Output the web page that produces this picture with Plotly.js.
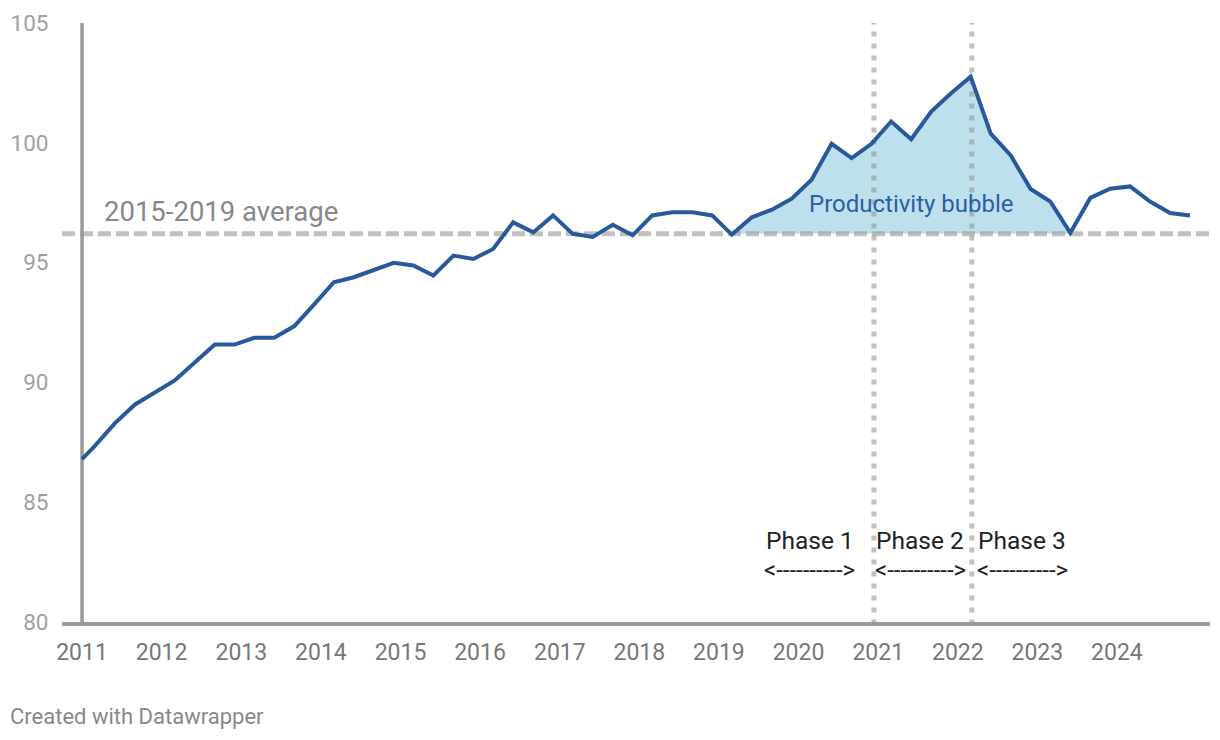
<!DOCTYPE html>
<html>
<head>
<meta charset="utf-8">
<script src="https://cdn.plot.ly/plotly-3.0.1.min.js"></script>
<style>
  html, body { margin: 0; padding: 0; background: #fff; }
  #chart { width: 1220px; height: 740px; }
</style>
</head>
<body>
<div id="chart"></div>
<script>
// ---- data ----
const quarters = [
  '2011-01','2011-03','2011-06','2011-09','2011-12',
  '2012-03','2012-06','2012-09','2012-12',
  '2013-03','2013-06','2013-09','2013-12',
  '2014-03','2014-06','2014-09','2014-12',
  '2015-03','2015-06','2015-09','2015-12',
  '2016-03','2016-06','2016-09','2016-12',
  '2017-03','2017-06','2017-09','2017-12',
  '2018-03','2018-06','2018-09','2018-12',
  '2019-03','2019-06','2019-09','2019-12',
  '2020-03','2020-06','2020-09','2020-12',
  '2021-03','2021-06','2021-09','2021-12',
  '2022-03','2022-06','2022-09','2022-12',
  '2023-03','2023-06','2023-09','2023-12',
  '2024-03','2024-06','2024-09','2024-12'
];
const productivity = [
  86.8, 87.35, 88.3, 89.08, 89.58,
  90.08, 90.83, 91.58, 91.58,
  91.86, 91.86, 92.35, 93.26,
  94.18, 94.39, 94.69, 94.99,
  94.88, 94.46, 95.29, 95.15,
  95.57, 96.68, 96.26, 96.97,
  96.20, 96.07, 96.58, 96.14,
  96.97, 97.10, 97.10, 96.97,
  96.17, 96.89, 97.21, 97.67,
  98.46, 99.96, 99.36, 99.96,
  100.89, 100.15, 101.30, 102.07,
  102.76, 100.38, 99.47, 98.07,
  97.55, 96.24, 97.70, 98.08,
  98.18, 97.55, 97.07, 96.97
];
const average2015_2019 = 96.2;
const bubbleStart = '2019-03';
const bubbleEnd = '2023-06';
const phaseBoundaries = ['2020-12-12', '2022-03-06'];
const yearTickVals = ['2011-01-01','2012-01-01','2013-01-01','2014-01-01','2015-01-01','2016-01-01','2017-01-01','2018-01-01','2019-01-01','2020-01-01','2021-01-01','2022-01-01','2023-01-01','2024-01-01'];
const yearTickText = ['2011','2012','2013','2014','2015','2016','2017','2018','2019','2020','2021','2022','2023','2024'];
const phases = [
  {label: 'Phase 1', x: '2020-02-22'},
  {label: 'Phase 2', x: '2021-07-12'},
  {label: 'Phase 3', x: '2022-10-24'}
];

// ---- derived ----
const xRange = ['2010-10-01', '2025-03-03'];
const i0 = quarters.indexOf(bubbleStart);
const i1 = quarters.indexOf(bubbleEnd);
const bubbleX = quarters.slice(i0, i1 + 1);
const bubbleY = productivity.slice(i0, i1 + 1);
const baseY = bubbleX.map(() => average2015_2019);

const LINE = '#285a9b';
const traces = [
  {x: bubbleX, y: baseY, mode: 'lines', line: {width: 0}, hoverinfo: 'skip', showlegend: false},
  {x: bubbleX, y: bubbleY, mode: 'lines', fill: 'tonexty', fillcolor: '#bee0ec', line: {width: 0}, hoverinfo: 'skip', showlegend: false},
  {x: xRange, y: [average2015_2019, average2015_2019], mode: 'lines',
   line: {color: 'rgba(150,150,150,0.6)', width: 5, dash: '13px,5px'}, hoverinfo: 'skip', showlegend: false}
];
phaseBoundaries.forEach(d => traces.push({
  x: [d, d], y: [79.9, 105], mode: 'lines',
  line: {color: 'rgba(150,150,150,0.6)', width: 5, dash: '5px,7px'}, hoverinfo: 'skip', showlegend: false
}));
traces.push({x: quarters, y: productivity, mode: 'lines', line: {color: LINE, width: 4}, showlegend: false});

const annotations = [
  {x: '2011-04-01', y: 97.15, xref: 'x', yref: 'y', xanchor: 'left', yanchor: 'middle',
   text: '2015-2019 average', showarrow: false, font: {family: 'Roboto', size: 27.5, color: '#888'}},
  {x: '2021-06-01', y: 97.45, xref: 'x', yref: 'y', xanchor: 'center', yanchor: 'middle',
   text: 'Productivity bubble', showarrow: false, font: {family: 'Roboto', size: 24, color: '#2a5ea6'}},
  {x: -0.047, y: -0.158, xref: 'paper', yref: 'paper', xanchor: 'left', yanchor: 'middle',
   text: 'Created with Datawrapper', showarrow: false, font: {family: 'Roboto', size: 22, color: '#888'}}
];
phases.forEach(p => {
  annotations.push({x: p.x, y: 83.4, xref: 'x', yref: 'y', xanchor: 'center', yanchor: 'middle',
    text: p.label, showarrow: false, font: {family: 'Roboto', size: 24.5, color: '#222'}});
  annotations.push({x: p.x, y: 82.15, xref: 'x', yref: 'y', xanchor: 'center', yanchor: 'middle',
    text: '&lt;----------&gt;', showarrow: false, font: {family: 'Roboto', size: 24, color: '#222'}});
});

const layout = {
  width: 1220, height: 740,
  margin: {l: 62, r: 10, t: 23, b: 117.5},
  paper_bgcolor: '#fff', plot_bgcolor: '#fff',
  font: {family: 'Roboto'},
  xaxis: {
    type: 'date', range: xRange, showgrid: false, zeroline: false,
    tickvals: yearTickVals, ticktext: yearTickText,
    ticks: 'outside', ticklen: 6, tickcolor: 'rgba(0,0,0,0)',
    showline: true, linecolor: '#999', linewidth: 4,
    tickfont: {family: 'Roboto', size: 23, color: '#777'},
    layer: 'below traces', fixedrange: true
  },
  yaxis: {
    range: [80, 105], showgrid: false, zeroline: false,
    tickvals: [80, 85, 90, 95, 100, 105],
    ticks: 'outside', ticklen: 8, tickcolor: 'rgba(0,0,0,0)',
    showline: false,
    tickfont: {family: 'Roboto', size: 22.5, color: '#a0a0a0'},
    fixedrange: true
  },
  shapes: [
    {type: 'line', xref: 'x', yref: 'y', x0: yearTickVals[0], x1: yearTickVals[0], y0: 80, y1: 105,
     line: {color: '#999', width: 3.5}, layer: 'below'}
  ],
  annotations: annotations,
  showlegend: false
};

Plotly.newPlot('chart', traces, layout, {displayModeBar: false, staticPlot: true});
</script>
</body>
</html>
